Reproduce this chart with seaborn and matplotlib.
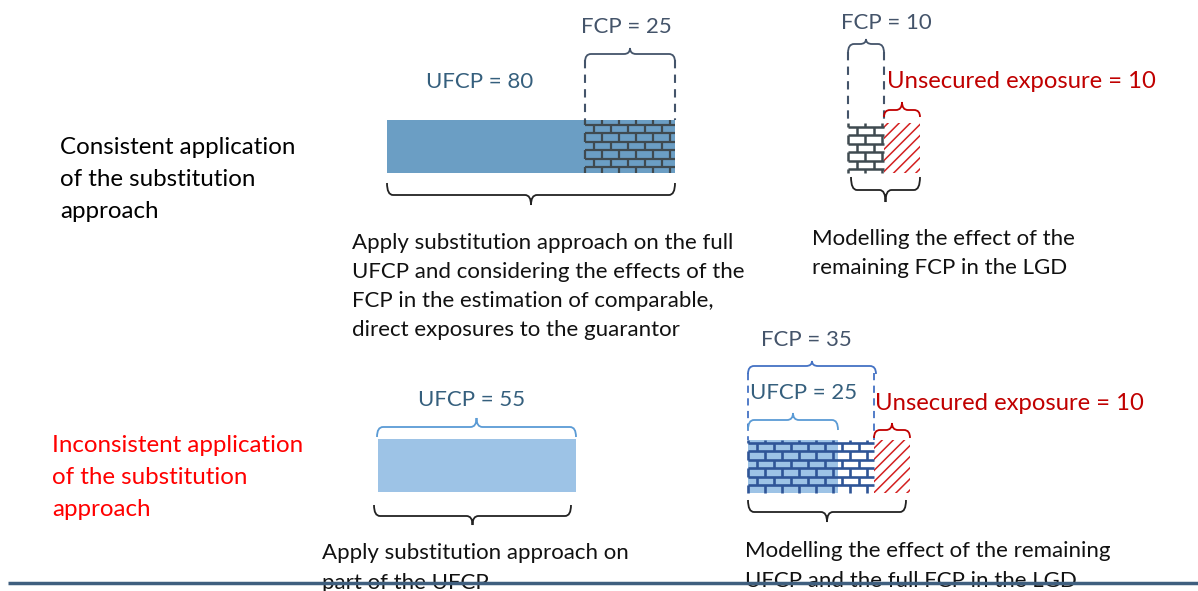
import matplotlib
matplotlib.use("Agg")
import matplotlib.pyplot as plt
from matplotlib.path import Path
from matplotlib.patches import PathPatch
import seaborn as sns

# exposure values shown in the picture
top_ufcp = 80          # full UFCP, substitution applied
top_fcp_in_ufcp = 25   # FCP part inside it (bricks)
top_fcp_rest = 10      # remaining FCP, modelled in LGD
top_unsecured = 10
bot_ufcp_sub = 55      # part of UFCP with substitution
bot_ufcp_rest = 25     # remaining UFCP
bot_fcp = 35           # full FCP incl. remaining UFCP
bot_unsecured = 10

row_titles = ["Consistent application\nof the substitution\napproach",
              "Inconsistent application\nof the substitution\napproach"]
top_note_left = ["Apply substitution approach on the full",
                 "UFCP and considering the effects of the",
                 "FCP in the estimation of comparable,",
                 "direct exposures to the guarantor"]
top_note_right = ["Modelling the effect of the", "remaining FCP in the LGD"]
bot_note_left = ["Apply substitution approach on", "part of the UFCP"]
bot_note_right = ["Modelling the effect of the remaining",
                  "UFCP and the full FCP in the LGD"]

W, H = 1198, 591
PX = 3.6  # pixels per exposure unit

sns.set_theme(style="white")
plt.rcParams["font.family"] = ["Lato", "DejaVu Sans"]
plt.rcParams["hatch.linewidth"] = 1.1

fig = plt.figure(figsize=(W / 100, H / 100), dpi=100)
ax = fig.add_axes([0, 0, 1, 1])
ax.set_xlim(0, W / PX)
ax.set_ylim(H, 0)
ax.axis("off")


def u(px):
    return px / PX


def brace(x0, x1, y0, ym, yt, color, lw=1.3):
    x0, x1 = u(x0), u(x1)
    xm = (x0 + x1) / 2
    r = min(u(6), (x1 - x0) / 6)
    pts = [(x0, y0), (x0, ym), (x0 + r, ym), (xm - r, ym), (xm, ym), (xm, yt),
           (xm, ym), (xm + r, ym), (x1 - r, ym), (x1, ym), (x1, y0)]
    codes = [Path.MOVETO, Path.CURVE3, Path.CURVE3, Path.LINETO, Path.CURVE3, Path.CURVE3,
             Path.CURVE3, Path.CURVE3, Path.LINETO, Path.CURVE3, Path.CURVE3]
    ax.add_patch(PathPatch(Path(pts, codes), fill=False, ec=color, lw=lw, zorder=4))


def bricks(x0, x1, y0, y1, color, lw=1.6, bw=17, rh=8.4, first=5):
    ys = []
    y = y0 + first
    while y < y1 - 1:
        ys.append(y)
        y += rh
    ax.hlines(ys, x0, x1, colors=color, lw=lw, zorder=3)
    rows = [y0] + ys + [y1]
    for i in range(len(rows) - 1):
        x = x0 * PX + (bw / 2 if i % 2 else 0)
        xs = []
        while x < x1 * PX - 1:
            xs.append(x / PX)
            x += bw
        ax.vlines(xs, rows[i], rows[i + 1], colors=color, lw=lw, zorder=3)


def lines(x, y0, step, texts, color="#111111", size=16):
    for i, t in enumerate(texts):
        ax.text(u(x), y0 + i * step, t, ha="left", va="center", color=color, fontsize=size)


dash = (0, (4, 3))
grey = "#44546a"
ufcp_col = "#355f7d"
red = "#c00000"
hatch_red = "#d42020"
LBL = 16
UNS = 17.2

# ---- row 1: consistent application ----
x_a = u(387)
yc, hh = 146.5, 53
ax.barh(yc, top_ufcp - top_fcp_in_ufcp, left=x_a, height=hh, color="#6b9ec4", lw=0)
ax.barh(yc, top_fcp_in_ufcp, left=x_a + top_ufcp - top_fcp_in_ufcp, height=hh,
        color="#6b9ec4", lw=0)
bx0 = x_a + top_ufcp - top_fcp_in_ufcp
bx1 = x_a + top_ufcp
bricks(bx0, bx1, yc - hh / 2, yc + hh / 2, "#3f4a50")
ax.vlines([bx0, bx1], 60, yc - hh / 2, colors=grey, lw=1.5, linestyles=dash)
brace(bx0 * PX, bx1 * PX, 62, 54, 48, grey)
ax.text((bx0 + bx1) / 2 - u(4), 27, f"FCP = {top_fcp_in_ufcp}", ha="center", va="center",
        color=grey, fontsize=LBL)
ax.text(u(480), 82, f"UFCP = {top_ufcp}", ha="center", va="center", color=ufcp_col,
        fontsize=LBL)
brace(387, bx1 * PX, 183, 195, 205, "#222222")

x_b = u(848)
yc2, hh2 = 148, 50
ax.barh(yc2, top_fcp_rest, left=x_b, height=hh2, color="white", lw=0)
bricks(x_b, x_b + top_fcp_rest, yc2 - hh2 / 2, yc2 + hh2 / 2, "#3f4a50", lw=1.8, first=4)
ax.barh(yc2, top_unsecured, left=x_b + top_fcp_rest, height=hh2, color="white",
        edgecolor=hatch_red, lw=0, hatch="///")
ax.vlines([x_b, x_b + top_fcp_rest], 52, yc2 - hh2 / 2, colors=grey, lw=1.5, linestyles=dash)
brace(848, (x_b + top_fcp_rest) * PX, 53, 44, 39, grey)
ax.text(u(886), 23, f"FCP = {top_fcp_rest}", ha="center", va="center", color=grey,
        fontsize=LBL)
brace((x_b + top_fcp_rest) * PX, (x_b + top_fcp_rest + top_unsecured) * PX, 117, 110, 102, red)
ax.text(u(887), 81, f"Unsecured exposure = {top_unsecured}", ha="left", va="center",
        color=red, fontsize=UNS)
brace(851, 920, 177, 190, 202, "#222222")

# ---- row 2: inconsistent application ----
x_c = u(378)
yc3, hh3 = 465.5, 53
ax.barh(yc3, bot_ufcp_sub, left=x_c, height=hh3, color="#9dc3e6", lw=0)
brace(377, (x_c + bot_ufcp_sub) * PX, 437, 427, 418, "#5b9bd5")
ax.text(u(472), 400, f"UFCP = {bot_ufcp_sub}", ha="center", va="center", color=ufcp_col,
        fontsize=LBL)
brace(374, 571, 505, 516, 525, "#222222")

x_d = u(748)
yc4, hh4 = 466.5, 53
ax.barh(yc4, bot_ufcp_rest, left=x_d, height=hh4, color="#9dc3e6", lw=0)
ax.barh(yc4, bot_fcp - bot_ufcp_rest, left=x_d + bot_ufcp_rest, height=hh4, color="white", lw=0)
bricks(x_d, x_d + bot_fcp, yc4 - hh4 / 2, yc4 + hh4 / 2, "#2f5597", lw=1.9, first=3)
ax.barh(yc4, bot_unsecured, left=x_d + bot_fcp, height=hh4, color="white",
        edgecolor=hatch_red, lw=0, hatch="///")
ax.vlines([x_d, x_d + bot_fcp], 373, yc4 - hh4 / 2, colors="#4472c4", lw=1.3, linestyles=dash)
brace(748, (x_d + bot_fcp) * PX + 2, 374, 366, 361, "#4472c4")
ax.text(u(806), 340, f"FCP = {bot_fcp}", ha="center", va="center", color=grey, fontsize=LBL)
brace(748, (x_d + bot_ufcp_rest) * PX, 430, 420, 413, "#5b9bd5")
ax.text(u(750), 393, f"UFCP = {bot_ufcp_rest}", ha="left", va="center", color=ufcp_col,
        fontsize=LBL)
brace((x_d + bot_fcp) * PX, (x_d + bot_fcp + bot_unsecured) * PX, 438, 430, 423, red)
ax.text(u(875), 403, f"Unsecured exposure = {bot_unsecured}", ha="left", va="center",
        color=red, fontsize=UNS)
brace(748, 906, 500, 512, 522, "#222222")

# ---- texts ----
lines(60, 147, 32, row_titles[0].split("\n"), color="black", size=17.4)
lines(52, 446, 32, row_titles[1].split("\n"), color="#ff0000", size=17.4)
lines(352, 243, 29, top_note_left)
lines(812, 239, 29, top_note_right)
lines(322, 553, 30, bot_note_left)
lines(745, 551, 30, bot_note_right)

ax.hlines(583, u(8), u(W), colors="#3f5f7f", lw=2.5, zorder=6)

fig.savefig("out.png", dpi=100)
